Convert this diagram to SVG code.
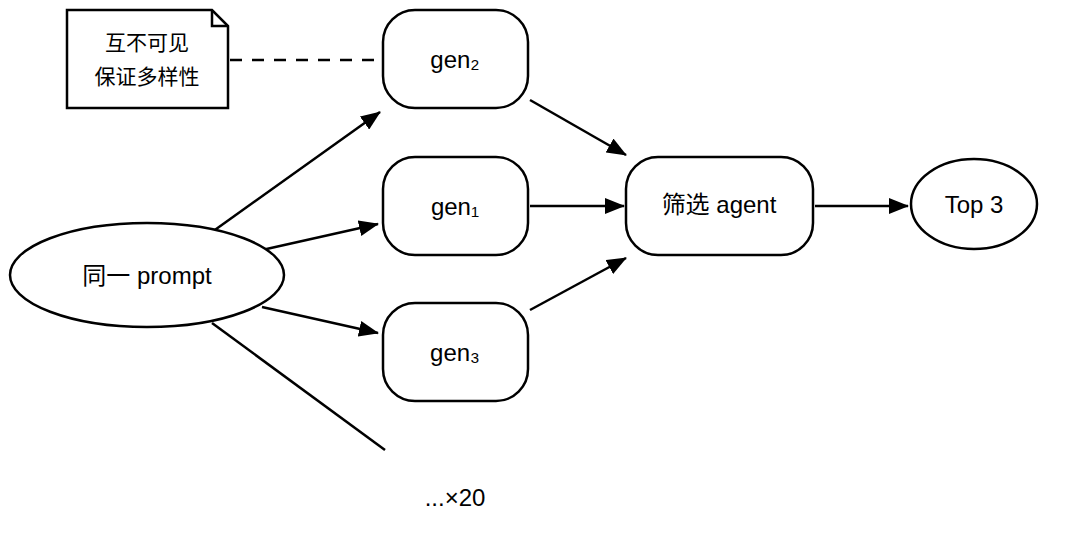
<svg xmlns="http://www.w3.org/2000/svg" width="1080" height="557" viewBox="0 0 1080 557">
<style>
.s{fill:#fff;stroke:#000;stroke-width:2.5}
.t{font-family:"Liberation Sans","Noto Sans CJK SC",sans-serif;font-size:24px;fill:#000;text-anchor:middle;dominant-baseline:central}
.n{font-size:21px}
.l{stroke:#000;stroke-width:2.5;fill:none}
</style>
<defs><marker id="a" markerWidth="10" markerHeight="10" refX="9" refY="5" orient="auto" markerUnits="userSpaceOnUse" viewBox="0 0 10 10"><path d="M0,0L10,5L0,10z" fill="#000"/></marker>
<marker id="b" markerWidth="20" markerHeight="16" refX="19" refY="8" orient="auto" markerUnits="userSpaceOnUse" viewBox="0 0 20 16"><path d="M0,0L20,8L0,16z" fill="#000"/></marker></defs>
<g id="connectors">
<path class="l" d="M230,60H380" stroke-dasharray="12,10"/>
<path class="l" d="M212,232L380,112" marker-end="url(#b)"/>
<path class="l" d="M262,250L378,224" marker-end="url(#b)"/>
<path class="l" d="M262,307L378,333" marker-end="url(#b)"/>
<path class="l" d="M212,323L385,450"/>
<path class="l" d="M530,100L626,155" marker-end="url(#b)"/>
<path class="l" d="M530,206L624,206" marker-end="url(#b)"/>
<path class="l" d="M530,310L626,258" marker-end="url(#b)"/>
<path class="l" d="M815,206L908,206" marker-end="url(#b)"/>
</g>
<g id="note"><path class="s" d="M67,10H212L228,26V108H67Z"/><path class="l" d="M212,10V26H228"/>
<text class="t n" x="147" y="42">互不可见</text><text class="t n" x="147" y="76">保证多样性</text></g>
<g id="prompt"><ellipse class="s" cx="147" cy="275" rx="137" ry="52"/><text class="t" x="147" y="275">同一 prompt</text></g>
<g id="gen2"><rect class="s" x="383" y="10" width="145" height="98" rx="32"/><text class="t" x="455" y="59">gen₂</text></g>
<g id="gen1"><rect class="s" x="383" y="157" width="145" height="98" rx="32"/><text class="t" x="455" y="206">gen₁</text></g>
<g id="gen3"><rect class="s" x="383" y="303" width="145" height="98" rx="32"/><text class="t" x="455" y="352">gen₃</text></g>
<g id="agent"><rect class="s" x="626" y="157" width="187" height="98" rx="32"/><text class="t" x="719" y="204">筛选 agent</text></g>
<g id="top3"><ellipse class="s" cx="974" cy="204" rx="63" ry="45"/><text class="t" x="974" y="204">Top 3</text></g>
<g id="more"><text class="t" x="455" y="497">...×20</text></g>
</svg>
